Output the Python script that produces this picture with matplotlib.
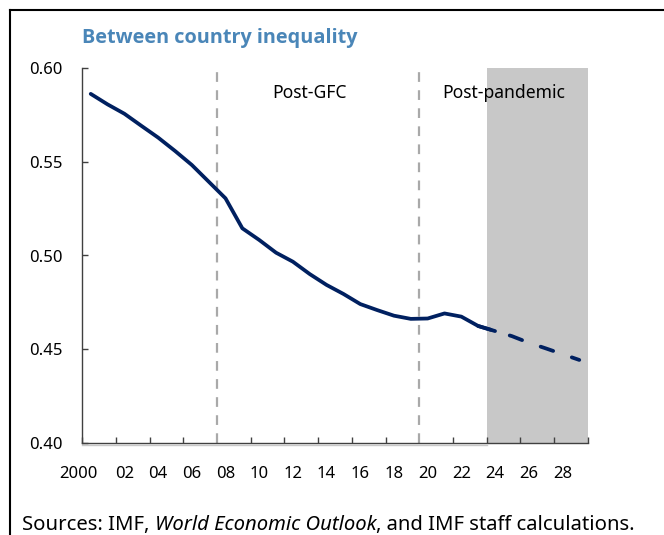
import matplotlib
matplotlib.use("Agg")
import matplotlib.pyplot as plt
from matplotlib.lines import Line2D

plt.rcParams['font.family'] = ['Noto Sans', 'DejaVu Sans']
plt.rcParams['lines.scale_dashes'] = False

# Gini-type index of between-country inequality
hist_years = list(range(2000, 2025))
hist_values = [0.5862, 0.5806, 0.5756, 0.5692, 0.5629, 0.5558, 0.5483, 0.5394,
               0.5305, 0.5145, 0.5083, 0.5015, 0.4967, 0.4901, 0.4843, 0.4795,
               0.4741, 0.4709, 0.4679, 0.4662, 0.4664, 0.4691, 0.4674, 0.4624,
               0.4597]
proj_years = [2023, 2024, 2025, 2026, 2027, 2028, 2029]
proj_values = [0.4624, 0.4597, 0.4570, 0.4535, 0.4505, 0.4474, 0.4443]

tick_years = list(range(2000, 2031, 2))
label_years = list(range(2000, 2029, 2))
year_labels = ["2000"] + [f"{y % 100:02d}" for y in label_years[1:]]
y_ticks = [0.40, 0.45, 0.50, 0.55, 0.60]
y_tick_labels = ["0.40", "0.45", "0.50", "0.55", "0.60"]

period_breaks = [2008, 2020]
forecast_span = (2024, 2030)

NAVY = "#002060"
TITLE_BLUE = "#4A86B8"
AXIS_GREY = "#404040"

W, H = 664, 535
fig = plt.figure(figsize=(W / 100, H / 100), dpi=100)
ax = fig.add_axes([82.3 / W, 1 - 443 / H, (587.7 - 82.3) / W, (443 - 68) / H])

ax.set_xlim(2000, 2030)
ax.set_ylim(0.40, 0.60)

# forecast shading
ax.axvspan(*forecast_span, ymin=0, ymax=1, color="#C8C8C8", lw=0, zorder=0)

# period separators
for yr in period_breaks:
    ax.plot([yr, yr], [0.40, 0.60], color="#A9A9A9", lw=1.6,
            linestyle=(0, (7, 6)), zorder=1)

# series: each annual point sits in the middle of its year slot
ax.plot([y + 0.5 for y in hist_years], hist_values, color=NAVY, lw=2.7,
        solid_capstyle="round", solid_joinstyle="round", zorder=3)
ax.plot([y + 0.5 for y in proj_years], proj_values, color=NAVY, lw=2.7,
        linestyle=(0, (9.5, 14.2)), dash_capstyle="round", zorder=3)

# axes styling
for s in ["top", "right"]:
    ax.spines[s].set_visible(False)
for s in ["left", "bottom"]:
    ax.spines[s].set_color(AXIS_GREY)
    ax.spines[s].set_linewidth(1.0)

ax.set_yticks(y_ticks)
ax.set_yticklabels(y_tick_labels)
ax.set_xticks(tick_years)
ax.set_xticklabels([])
ax.tick_params(axis="both", direction="in", length=4.5, width=1.0,
               color=AXIS_GREY, labelsize=12, labelcolor="black")
ax.tick_params(axis="y", pad=14)
# hide tick marks under the dashed separators
for t in ax.xaxis.get_major_ticks():
    if t.get_loc() in period_breaks:
        t.tick1line.set_visible(False)

# faint baseline under the historical part
ax.plot([2000, forecast_span[0]], [0.3988, 0.3988], color="#C8C8C8", lw=1.0,
        clip_on=False, zorder=0)

# year labels centred in their slots
for yr, lab in zip(label_years, year_labels):
    xpos = yr + 0.5 if lab != "2000" else yr - 0.2
    ax.text(xpos, 0.40 - 35 / 1875, lab, ha="center", va="baseline",
            fontsize=12, color="black")

ax.text(2011.3, 0.5867, "Post-GFC", ha="left", va="center", fontsize=12.6)
ax.text(2021.35, 0.5867, "Post-pandemic", ha="left", va="center", fontsize=12.6)

fig.text(82 / W, 1 - 37.5 / H, "Between country inequality", ha="left",
         va="center", fontsize=14.3, fontweight="bold", color=TITLE_BLUE,
         family=["Open Sans", "DejaVu Sans"])

# source line built piece by piece so the publication title can be italic
src = [("Sources: IMF, ", "normal"), ("World Economic Outlook", "italic"),
       (", and IMF staff calculations.", "normal")]
renderer = fig.canvas.get_renderer()
xpix = 22
for txt, style in src:
    t = fig.text(xpix / W, 1 - 530 / H, txt, ha="left", va="baseline",
                 fontsize=14.6, fontstyle=style)
    bb = t.get_window_extent(renderer=renderer)
    xpix += bb.width

# frame around the panel
fig.add_artist(Line2D([10 / W, 10 / W], [0, 1 - 10 / H], color="black", lw=1.5,
                      transform=fig.transFigure))
fig.add_artist(Line2D([10 / W, 1], [1 - 10 / H, 1 - 10 / H], color="black", lw=1.5,
                      transform=fig.transFigure))

fig.savefig("out.png", dpi=100)
